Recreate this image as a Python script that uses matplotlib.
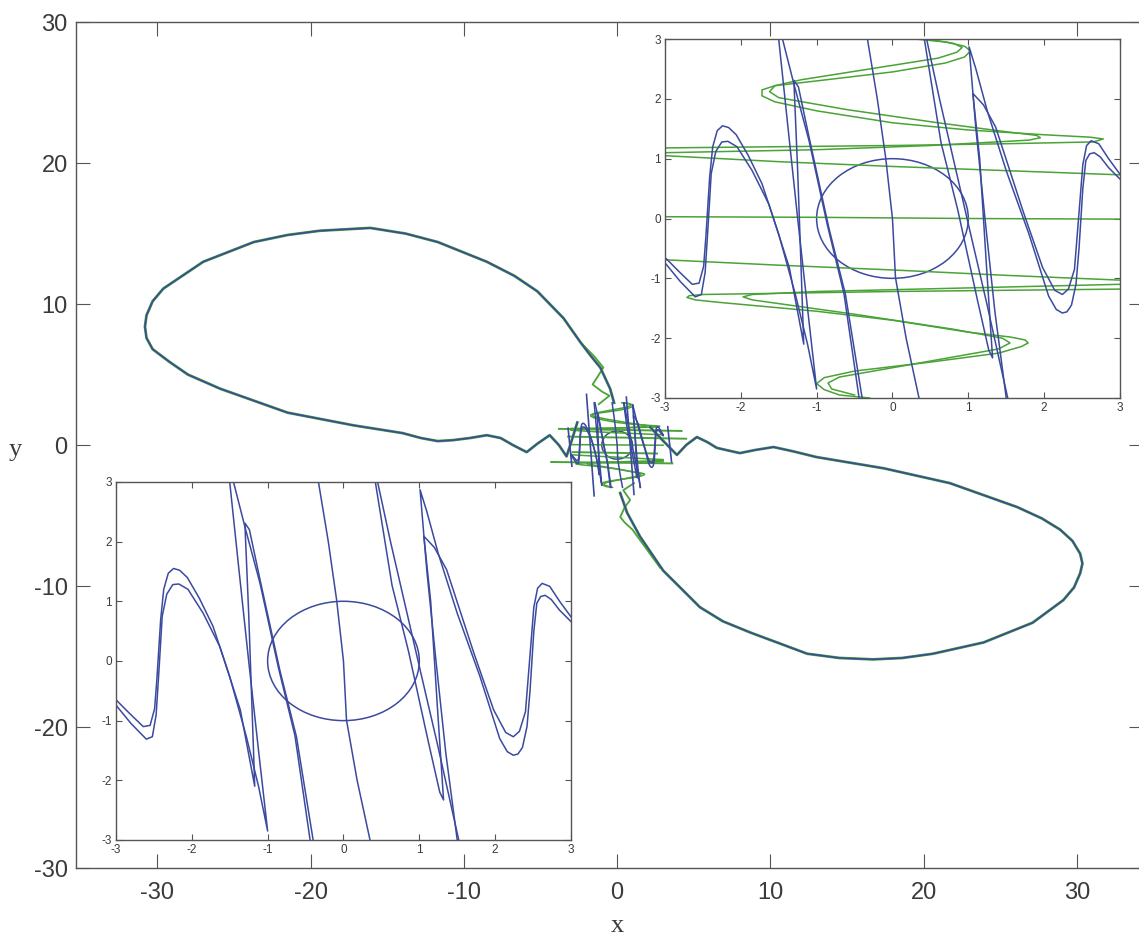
"""Phase portrait with two lobes and two +-3 zoom insets -> out.png"""
import matplotlib
matplotlib.use("Agg")
import matplotlib.pyplot as plt
from matplotlib.patches import Ellipse

BLUE = "#3b4a9e"
GREEN = "#4aa336"
INK = "#3a3a3a"
plt.rcParams["font.family"] = ["Liberation Sans", "DejaVu Sans"]
plt.rcParams["axes.unicode_minus"] = False   # plain hyphen minus, like the original
plt.rcParams["lines.solid_joinstyle"] = "round"

# ---- main trajectory (big lobes) ----
lobe_left_x = [-2.6, -3.0, -3.3, -3.8, -4.4, -5.2, -5.9, -6.8, -7.6, -8.5, -9.6, -10.7, -11.7,
               -12.8, -14.0, -17.2, -21.5, -25.9, -28.0, -29.2, -30.3, -30.7, -30.8, -30.7,
               -30.3, -29.6, -27.0, -23.7, -21.5, -19.4, -16.1, -13.8, -11.7, -8.5, -6.7,
               -5.2, -3.5, -2.4, -1.7, -1.1, -0.46, -0.2]
lobe_left_y = [1.6, 0.2, -0.8, 0.0, 0.7, 0.1, -0.5, 0.0, 0.5, 0.7, 0.5, 0.35, 0.28,
               0.5, 0.85, 1.4, 2.3, 4.0, 5.0, 5.9, 6.8, 7.6, 8.4, 9.2,
               10.2, 11.1, 13.0, 14.4, 14.9, 15.2, 15.4, 15.0, 14.4, 13.0, 12.0,
               10.9, 9.0, 7.3, 6.3, 5.5, 4.0, 3.0]
lobe_right_x = [2.15, 3.0, 3.9, 4.5, 5.2, 5.9, 6.5, 8.0, 9.0, 10.2, 11.5, 13.0, 17.4, 21.7,
                26.1, 27.7, 28.9, 29.7, 30.2, 30.35, 30.2, 29.8, 29.1, 27.1, 23.9, 20.6,
                18.6, 16.7, 14.5, 12.4, 8.7, 6.9, 5.4, 3.0, 1.5, 0.65, 0.2]
lobe_right_y = [1.28, 0.3, -0.7, 0.0, 0.57, 0.2, -0.2, -0.57, -0.35, -0.14, -0.45, -0.85,
                -1.65, -2.7, -4.4, -5.2, -6.0, -6.8, -7.7, -8.4, -9.1, -10.1, -11.0, -12.6,
                -14.0, -14.8, -15.1, -15.2, -15.1, -14.8, -13.3, -12.5, -11.5, -8.9, -6.5,
                -4.8, -3.4]

# green wiggles where the green orbit leaves the centre through the necks
neck_up_x = [-2.4, -1.5, -0.9, -1.3, -1.6, -1.0, -0.5, -1.2]
neck_up_y = [7.3, 6.3, 5.5, 4.8, 4.3, 3.8, 3.5, 2.9]
neck_dn_x = [2.8, 1.8, 1.0, 0.5, 0.2, 0.5, 0.85, 0.4, 1.1]
neck_dn_y = [-8.7, -7.2, -6.0, -5.5, -5.1, -4.4, -3.9, -3.2, -2.7]
# longer strokes through the centre of the main panel
hline_x = [[-3.8, 4.2], [-4.3, 3.6], [-2.9, 2.6], [-3.2, 4.5]]
hline_y = [[1.15, 1.0], [-1.2, -1.3], [-0.5, -0.6], [0.6, 0.45]]
vline_x = [[-2.0, -1.75, -1.5], [0.6, 0.85, 1.1], [-3.2, -2.95], [3.3, 3.55]]
vline_y = [[3.6, 0.0, -3.6], [3.4, 0.0, -3.5], [1.2, -1.5], [1.3, -1.2]]

# ---- zoomed view, blue (both insets) ----
b_outer_l_x = [-3.0, -2.82, -2.64, -2.55, -2.49, -2.46, -2.41, -2.37, -2.31, -2.24, -2.16,
               -2.06, -1.9, -1.72, -1.5, -1.28, -1.12, -1.0, -1.12, -1.25, -1.38, -1.5]
b_outer_l_y = [-0.65, -0.88, -1.1, -1.08, -0.8, -0.3, 0.7, 1.2, 1.47, 1.55, 1.52,
               1.4, 1.05, 0.58, -0.26, -1.27, -2.1, -2.85, -1.5, 0.0, 1.55, 3.0]
b_inner_l_x = [-3.0, -2.8, -2.6, -2.52, -2.47, -2.43, -2.39, -2.33, -2.25, -2.17, -2.05,
               -1.85, -1.63, -1.36, -1.21, -1.17, -1.2, -1.25, -1.3, -1.24, -1.1, -0.84,
               -0.62, -0.4]
b_inner_l_y = [-0.74, -1.05, -1.31, -1.27, -0.9, -0.1, 0.75, 1.12, 1.28, 1.29, 1.2,
               0.8, 0.24, -0.82, -1.83, -2.1, -1.0, 0.8, 2.31, 2.2, 1.36, -0.15, -1.27, -3.0]
b_slant_l_x = [-1.45, -1.3, -1.1, -0.86, -0.64, -0.44]
b_slant_l_y = [3.0, 2.25, 1.3, -0.1, -1.25, -3.0]

b_outer_r_x = [3.0, 2.85, 2.74, 2.66, 2.6, 2.55, 2.51, 2.46, 2.42, 2.36, 2.3, 2.24, 2.16,
               2.06, 1.8, 1.5, 1.25, 1.1, 1.01, 1.1, 1.22, 1.35, 1.5]
b_outer_r_y = [0.66, 0.85, 1.03, 1.1, 1.08, 0.97, 0.5, -0.5, -1.1, -1.45, -1.56, -1.58,
               -1.52, -1.3, -0.26, 0.8, 1.8, 2.5, 2.87, 1.5, 0.0, -1.55, -3.0]
b_inner_r_x = [3.0, 2.85, 2.72, 2.62, 2.56, 2.51, 2.46, 2.4, 2.32, 2.24, 2.14, 1.98, 1.72,
               1.36, 1.2, 1.06, 1.15, 1.24, 1.32, 1.27, 1.12, 0.86, 0.64, 0.42]
b_inner_r_y = [0.74, 1.0, 1.25, 1.3, 1.22, 0.9, 0.1, -0.85, -1.18, -1.27, -1.2, -0.82, 0.13,
               1.53, 1.9, 2.09, 1.0, -0.8, -2.33, -2.2, -1.36, 0.15, 1.27, 3.0]
b_slant_r_x = [0.45, 0.62, 0.82, 1.02, 1.24, 1.52]
b_slant_r_y = [3.0, 2.0, 0.9, -0.2, -1.4, -3.0]

b_mid_x = [-0.33, -0.2, -0.09, 0.0, 0.04, 0.18, 0.35]
b_mid_y = [3.0, 2.0, 1.02, 0.0, -0.99, -2.0, -3.0]

circle_center = (0.0, 0.0)
circle_radius = 1.0

# ---- zoomed view, green (top-right inset only) ----
g_up_x = [0.3, 0.7, 0.95, 1.03, 0.95, 0.7, 0.0, -1.0, -1.55, -1.72, -1.72, -1.55, -1.0,
          0.0, 1.0, 2.0, 2.6, 2.78, 2.65, 1.5, 0.0, -1.5, -3.0]
g_up_y = [3.0, 2.95, 2.88, 2.8, 2.7, 2.6, 2.45, 2.3, 2.22, 2.15, 2.05, 1.95, 1.8,
          1.6, 1.48, 1.4, 1.36, 1.33, 1.28, 1.25, 1.22, 1.2, 1.18]
g_up2_x = [0.45, 0.8, 0.92, 0.85, 0.6, -0.2, -1.2, -1.55, -1.62, -1.5, -0.6, 0.6, 1.5,
           1.9, 1.95, 1.8, 0.5, -1.0, -3.0]
g_up2_y = [3.0, 2.93, 2.86, 2.78, 2.68, 2.52, 2.32, 2.22, 2.12, 2.02, 1.82, 1.6, 1.45,
           1.39, 1.35, 1.31, 1.22, 1.15, 1.1]
g_flat_up_x = [-3.0, -1.5, 0.0, 1.5, 3.0]
g_flat_up_y = [1.05, 0.95, 0.87, 0.8, 0.73]
g_zero_x = [-3.0, -1.0, 1.0, 3.0]
g_zero_y = [0.03, 0.02, 0.0, -0.01]
g_flat_dn_x = [-3.0, -1.5, 0.0, 1.5, 3.0]
g_flat_dn_y = [-0.69, -0.78, -0.86, -0.95, -1.03]
g_dn_x = [3.0, 1.5, 0.0, -1.5, -2.5, -2.68, -2.71, -2.6, -2.3, -1.0, 0.0, 1.0, 1.55, 1.75,
          1.79, 1.7, 1.4, 0.5, -0.5, -0.9, -1.0, -0.9, -0.7, -0.3]
g_dn_y = [-1.18, -1.2, -1.22, -1.25, -1.27, -1.29, -1.32, -1.36, -1.4, -1.55, -1.7, -1.9,
          -1.98, -2.03, -2.08, -2.14, -2.25, -2.4, -2.55, -2.66, -2.76, -2.86, -2.95, -3.0]
g_dn2_x = [3.0, 1.0, -1.0, -1.85, -1.97, -1.85, -0.5, 0.8, 1.45, 1.55, 1.4, 0.2, -0.7,
           -0.85, -0.8, -0.5]
g_dn2_y = [-1.1, -1.16, -1.22, -1.27, -1.31, -1.36, -1.6, -1.85, -2.0, -2.08, -2.18, -2.45,
           -2.65, -2.75, -2.85, -2.95]

BLUE_SETS = [(b_outer_l_x, b_outer_l_y), (b_inner_l_x, b_inner_l_y), (b_slant_l_x, b_slant_l_y),
             (b_outer_r_x, b_outer_r_y), (b_inner_r_x, b_inner_r_y), (b_slant_r_x, b_slant_r_y),
             (b_mid_x, b_mid_y)]
GREEN_SETS = [(g_up_x, g_up_y), (g_up2_x, g_up2_y), (g_flat_up_x, g_flat_up_y),
              (g_zero_x, g_zero_y), (g_flat_dn_x, g_flat_dn_y), (g_dn_x, g_dn_y),
              (g_dn2_x, g_dn2_y)]


def draw_zoom(ax, lw, with_green):
    if with_green:
        for gx, gy in GREEN_SETS:
            ax.plot(gx, gy, color=GREEN, lw=lw)
    for bx, by in BLUE_SETS:
        ax.plot(bx, by, color=BLUE, lw=lw)
    ax.add_patch(Ellipse(circle_center, 2 * circle_radius, 2 * circle_radius,
                         fill=False, ec=BLUE, lw=lw))


def style(ax, fs, length):
    for s in ax.spines.values():
        s.set_color("#555555")
        s.set_linewidth(1.0)
    ax.tick_params(direction="in", top=True, right=True, length=length,
                   labelsize=fs, colors="#555555", labelcolor=INK)


fig = plt.figure(figsize=(11.39, 9.36), dpi=100)
ax = fig.add_axes([0.0667, 0.0726, 0.9368, 0.9038])
ax.plot(lobe_left_x, lobe_left_y, color=GREEN, lw=2.0)
ax.plot(lobe_right_x, lobe_right_y, color=GREEN, lw=2.0)
ax.plot(neck_up_x, neck_up_y, color=GREEN, lw=1.3)
ax.plot(neck_dn_x, neck_dn_y, color=GREEN, lw=1.3)
for hx, hy in zip(hline_x, hline_y):
    ax.plot(hx, hy, color=GREEN, lw=1.4)
draw_zoom(ax, 1.1, True)
for vx, vy in zip(vline_x, vline_y):
    ax.plot(vx, vy, color=BLUE, lw=1.2)
ax.plot(lobe_left_x, lobe_left_y, color=BLUE, lw=1.2)
ax.plot(lobe_right_x, lobe_right_y, color=BLUE, lw=1.2)
ax.set_xlim(-35.3, 34.3)
ax.set_ylim(-30, 30)
ax.set_xticks([-30, -20, -10, 0, 10, 20, 30])
ax.set_yticks([-30, -20, -10, 0, 10, 20, 30])
style(ax, 17, 10)
ax.tick_params(axis="x", pad=10)
ax.tick_params(axis="y", pad=6)

fig.text(15 / 1139, 1 - 450 / 936, "y", family="Liberation Serif", fontsize=19,
         color=INK, ha="center", va="center")
fig.text(617 / 1139, 1 - 926 / 936, "x", family="Liberation Serif", fontsize=19,
         color=INK, ha="center", va="center")

insets = [[0.5838, 0.5748, 0.3995, 0.3835], [0.1018, 0.1026, 0.3995, 0.3825]]
for k, pos in enumerate(insets):
    ia = fig.add_axes(pos)
    ia.set_facecolor("white")
    draw_zoom(ia, 1.1, k == 0)
    ia.set_xlim(-3, 3)
    ia.set_ylim(-3, 3)
    ia.set_xticks(range(-3, 4))
    ia.set_yticks(range(-3, 4))
    style(ia, 8.5, 4)
    ia.tick_params(pad=3)

fig.savefig("out.png", dpi=100)
